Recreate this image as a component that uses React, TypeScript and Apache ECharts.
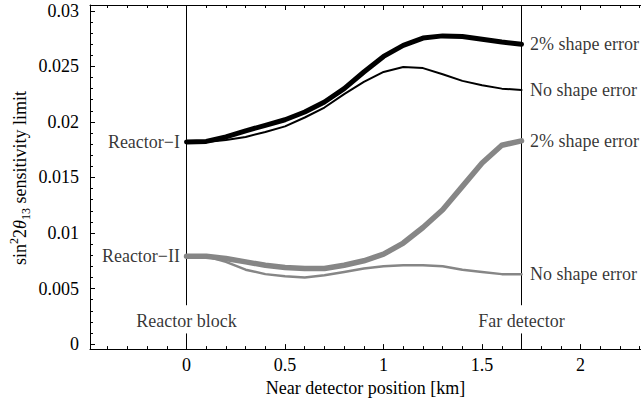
import React, { useEffect, useRef } from "react";
import * as echarts from "echarts";

// ---- data ----
const positionsKm = [0, 0.1, 0.2, 0.3, 0.4, 0.5, 0.6, 0.7, 0.8, 0.9, 1.0, 1.1, 1.2, 1.3, 1.4, 1.5, 1.6, 1.7];
const reactorIShape = [0.0182, 0.01825, 0.01865, 0.0192, 0.0197, 0.0202, 0.0209, 0.0218, 0.023, 0.0245, 0.0259, 0.0269, 0.02755, 0.02775, 0.0277, 0.02745, 0.0272, 0.027];
const reactorINoShape = [0.0182, 0.0182, 0.01838, 0.01865, 0.0191, 0.0196, 0.0204, 0.0213, 0.0225, 0.0236, 0.0245, 0.02495, 0.02485, 0.0243, 0.0237, 0.0233, 0.023, 0.02288];
const reactorIIShape = [0.0079, 0.0079, 0.0077, 0.0074, 0.0071, 0.0069, 0.0068, 0.0068, 0.0071, 0.0075, 0.0081, 0.0091, 0.0105, 0.0121, 0.0142, 0.0163, 0.0179, 0.0183];
const reactorIINoShape = [0.0079, 0.0079, 0.0074, 0.0067, 0.0063, 0.0061, 0.006, 0.0062, 0.0065, 0.0068, 0.007, 0.0071, 0.0071, 0.007, 0.0067, 0.0065, 0.0063, 0.0063];

const reactorLabels = ["Reactor\u2212I", "Reactor\u2212II"];
const curveLabels = ["2% shape error", "No shape error", "2% shape error", "No shape error"];
const markerPositions = [0, 1.7];
const markerLabels = ["Reactor block", "Far detector"];
const markerLabelY = 0.00206;
const markerGap = [0.00096, 0.0035];

const xMajorTicks = [0, 0.5, 1, 1.5, 2];
const xTickLabels = ["0", "0.5", "1", "1.5", "2"];
const xMinorTicks = [-0.4, -0.3, -0.2, -0.1, 0.1, 0.2, 0.3, 0.4, 0.6, 0.7, 0.8, 0.9, 1.1, 1.2, 1.3, 1.4, 1.6, 1.7, 1.8, 1.9, 2.1, 2.2, 2.3];
const yMajorTicks = [0, 0.005, 0.01, 0.015, 0.02, 0.025, 0.03];
const yTickLabels = ["0", "0.005", "0.01", "0.015", "0.02", "0.025", "0.03"];
const yMinorTicks = [0.001, 0.002, 0.003, 0.004, 0.006, 0.007, 0.008, 0.009, 0.011, 0.012, 0.013, 0.014, 0.016, 0.017, 0.018, 0.019, 0.021, 0.022, 0.023, 0.024, 0.026, 0.027, 0.028, 0.029];

const X_MIN = -0.4897;
const X_MAX = 2.3064;
const Y_MIN = -0.00045;
const Y_MAX = 0.03053;

const FONT = "'Liberation Serif', 'Times New Roman', serif";
const GRAY = "#868686";

function fmt(list: number[], labels: string[]) {
  return (v: number) => {
    for (let i = 0; i < list.length; i++) if (Math.abs(list[i] - v) < 1e-9) return labels[i];
    return "";
  };
}

export default function App() {
  const ref = useRef<HTMLDivElement>(null);
  useEffect(() => {
    if (!ref.current) return;
    const chart = echarts.init(ref.current, undefined, { renderer: "svg" });
    const zip = (ys: number[]) => positionsKm.map((x, i) => [x, ys[i]]);
    const last = positionsKm.length - 1;
    const xBase = { type: "value", min: X_MIN, max: X_MAX, splitLine: { show: false } };
    const yBase = { type: "value", min: Y_MIN, max: Y_MAX, splitLine: { show: false } };
    const lineStyleAxis = { color: "#000", width: 1 };

    const lineSeries = (ys: number[], color: string, width: number) => ({
      type: "line",
      data: zip(ys),
      showSymbol: false,
      symbol: "none",
      silent: true,
      lineStyle: { color, width, cap: "round", join: "round" },
      z: width > 3 ? 2 : 3,
    });

    const markerLines = markerPositions.flatMap((x) => [
      {
        type: "line",
        data: [[x, Y_MAX], [x, markerGap[1]]],
        symbol: "none",
        lineStyle: { color: "#000", width: 1 },
        z: 1,
      },
      {
        type: "line",
        data: [[x, markerGap[0]], [x, Y_MIN]],
        symbol: "none",
        lineStyle: { color: "#000", width: 1 },
        z: 1,
      },
    ]);

    const labelScatter = (
      data: any[],
      position: string,
      distance: number
    ) => ({
      type: "scatter",
      data,
      symbolSize: 1,
      itemStyle: { color: "rgba(0,0,0,0)" },
      silent: true,
      label: {
        show: true,
        position,
        distance,
        formatter: (p: any) => p.data.name,
        fontFamily: FONT,
        fontSize: 18,
        color: "#000",
      },
      z: 5,
    });

    const ends = [reactorIShape, reactorINoShape, reactorIIShape, reactorIINoShape];

    chart.setOption({
      animation: false,
      grid: { left: 90, top: 5, right: 0, bottom: 51.3, containLabel: false },
      xAxis: [
        {
          ...xBase,
          position: "bottom",
          axisLine: { show: true, onZero: false, lineStyle: lineStyleAxis },
          axisTick: { show: true, inside: true, length: 5, customValues: xMajorTicks, lineStyle: lineStyleAxis },
          axisLabel: {
            show: true,
            customValues: xMajorTicks,
            formatter: fmt(xMajorTicks, xTickLabels),
            fontFamily: FONT,
            fontSize: 18,
            color: "#000",
            margin: 7,
          },
          name: "Near detector position [km]",
          nameLocation: "middle",
          nameGap: 28,
          nameTextStyle: { fontFamily: FONT, fontSize: 18, color: "#000" },
        },
        {
          ...xBase,
          position: "bottom",
          axisLine: { show: false, onZero: false },
          axisTick: { show: true, inside: true, length: 3, customValues: xMinorTicks, lineStyle: lineStyleAxis },
          axisLabel: { show: false },
        },
        {
          ...xBase,
          position: "top",
          axisLine: { show: true, onZero: false, lineStyle: lineStyleAxis },
          axisTick: { show: true, inside: true, length: 5, customValues: xMajorTicks, lineStyle: lineStyleAxis },
          axisLabel: { show: false },
        },
        {
          ...xBase,
          position: "top",
          axisLine: { show: false, onZero: false },
          axisTick: { show: true, inside: true, length: 3, customValues: xMinorTicks, lineStyle: lineStyleAxis },
          axisLabel: { show: false },
        },
      ],
      yAxis: [
        {
          ...yBase,
          position: "left",
          axisLine: { show: true, onZero: false, lineStyle: lineStyleAxis },
          axisTick: { show: true, inside: true, length: 5, customValues: yMajorTicks, lineStyle: lineStyleAxis },
          axisLabel: {
            show: true,
            customValues: yMajorTicks,
            formatter: fmt(yMajorTicks, yTickLabels),
            fontFamily: FONT,
            fontSize: 18,
            color: "#000",
            margin: 11,
          },
        },
        {
          ...yBase,
          position: "left",
          axisLine: { show: false, onZero: false },
          axisTick: { show: true, inside: true, length: 3, customValues: yMinorTicks, lineStyle: lineStyleAxis },
          axisLabel: { show: false },
        },
      ],
      series: [
        ...markerLines,
        lineSeries(reactorIShape, "#000", 5),
        lineSeries(reactorINoShape, "#000", 2),
        lineSeries(reactorIIShape, GRAY, 5.5),
        lineSeries(reactorIINoShape, GRAY, 2.5),
        labelScatter(
          [
            { name: reactorLabels[0], value: [positionsKm[0], reactorIShape[0]] },
            { name: reactorLabels[1], value: [positionsKm[0], reactorIIShape[0]] },
          ],
          "left",
          6
        ),
        labelScatter(
          ends.map((ys, i) => ({ name: curveLabels[i], value: [positionsKm[last], ys[last]] })),
          "right",
          8
        ),
        labelScatter(
          markerPositions.map((x, i) => ({ name: markerLabels[i], value: [x, markerLabelY] })),
          "inside",
          0
        ),
      ],
      graphic: [
        {
          type: "text",
          x: 20,
          y: 178,
          rotation: Math.PI / 2,
          style: {
            text: "{a|sin}{sup|2}{a|2}{th|\u03B8}{sub|13}{a| sensitivity limit}",
            align: "center",
            verticalAlign: "middle",
            fill: "#000",
            rich: {
              a: { fontFamily: FONT, fontSize: 18, lineHeight: 24, fill: "#000" },
              th: { fontFamily: FONT, fontSize: 18, fontStyle: "italic", lineHeight: 24, fill: "#000" },
              sup: { fontFamily: FONT, fontSize: 12, verticalAlign: "top", lineHeight: 14, fill: "#000" },
              sub: { fontFamily: FONT, fontSize: 12, verticalAlign: "bottom", lineHeight: 12, fill: "#000" },
            },
          },
        },
      ],
    });
    return () => chart.dispose();
  }, []);
  return (
    <div
      ref={ref}
      style={{ position: "absolute", left: 0, top: 0, width: 641, height: 402, background: "#fff" }}
    />
  );
}
